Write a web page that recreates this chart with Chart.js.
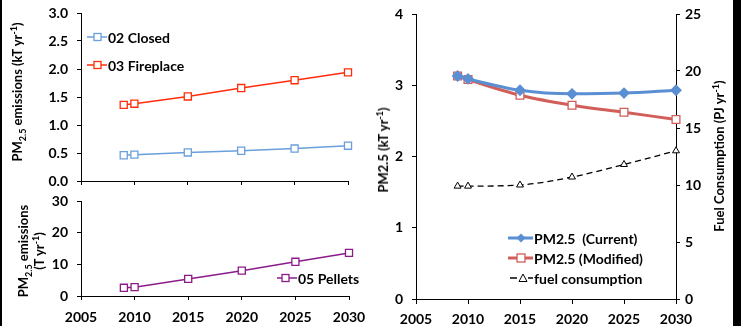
<!DOCTYPE html>
<html>
<head>
<meta charset="utf-8">
<script src="https://cdn.jsdelivr.net/npm/chart.js@4.4.1/dist/chart.umd.min.js"></script>
<style>
  body { margin: 0; background: #fff; }
  #wrap { position: relative; width: 741px; height: 326px; overflow: hidden; background: #fff;
          font-family: Lato, "Open Sans", sans-serif; font-weight: bold; color: #000; }
  canvas { position: absolute; }
  .title { position: absolute; white-space: nowrap; font-size: 13px; line-height: 16px;
           transform: translate(-50%, -50%) rotate(-90deg); text-align: center; }
  .title sub, .title sup { font-size: 9px; line-height: 0; }
  .leg { position: absolute; height: 18px; display: flex; align-items: center; font-size: 14px; white-space: pre; }
  .leg svg { margin-right: 1px; }
</style>
</head>
<body>
<div id="wrap">
  <canvas id="topLeft" width="370" height="190" style="left:0;top:0"></canvas>
  <canvas id="bottomLeft" width="370" height="136" style="left:0;top:190px"></canvas>
  <canvas id="right" width="363" height="326" style="left:370px;top:0"></canvas>

  <div class="title" style="left:17px;top:92px">PM<sub>2.5</sub> emissions (kT yr<sup>-1</sup>)</div>
  <div class="title" style="left:31px;top:251px">PM<sub>2.5</sub> emissions<br>(T yr<sup>-1</sup>)</div>
  <div class="title" style="left:383px;top:150px">PM2.5 (kT yr<sup>-1</sup>)</div>
  <div class="title" style="left:719px;top:156px">Fuel Consumption (PJ yr<sup>-1</sup>)</div>

  <div class="leg" style="left:87px;top:28px">
    <svg width="20" height="10"><line x1="0" y1="5" x2="20" y2="5" stroke="#6A9FDB" stroke-width="1.5"/><rect x="7" y="1.5" width="7" height="7" fill="#fff" stroke="#6A9FDB" stroke-width="1.3"/></svg>02 Closed</div>
  <div class="leg" style="left:87px;top:56px">
    <svg width="20" height="10"><line x1="0" y1="5" x2="20" y2="5" stroke="#FF2D0A" stroke-width="1.5"/><rect x="7" y="1.5" width="7" height="7" fill="#fff" stroke="#FF2D0A" stroke-width="1.3"/></svg>03 Fireplace</div>
  <div class="leg" style="left:277px;top:269px">
    <svg width="20" height="10"><line x1="0" y1="5" x2="20" y2="5" stroke="#8B1B8B" stroke-width="1.5"/><rect x="5" y="1.5" width="7" height="7" fill="#fff" stroke="#8B1B8B" stroke-width="1.3"/></svg>05 Pellets</div>
  <div class="leg" style="left:508px;top:229px">
    <svg width="25" height="12"><line x1="0" y1="6" x2="25" y2="6" stroke="#5A8FD3" stroke-width="3"/><polygon points="13,1.5 17.5,6 13,10.5 8.5,6" fill="#5A8FD3"/></svg>PM2.5  (Current)</div>
  <div class="leg" style="left:508px;top:249px">
    <svg width="25" height="12"><line x1="0" y1="6" x2="25" y2="6" stroke="#D15E59" stroke-width="3"/><rect x="9" y="2" width="8" height="8" fill="#fff" stroke="#D15E59" stroke-width="1.3"/></svg>PM2.5 (Modified)</div>
  <div class="leg" style="left:508px;top:269px">
    <svg width="25" height="12"><line x1="2" y1="6" x2="9" y2="6" stroke="#000" stroke-width="1.5"/><polygon points="15,2 19,9.5 11,9.5" fill="#fff" stroke="#000" stroke-width="1"/><line x1="20" y1="6" x2="25" y2="6" stroke="#000" stroke-width="1.5"/></svg>fuel consumption</div>

  <div style="position:absolute;left:0;top:0;width:2px;height:326px;background:#000"></div>
  <div style="position:absolute;left:733px;top:0;width:8px;height:326px;background:#000"></div>
</div>

<script>
// datos
const years = [2009, 2010, 2015, 2020, 2025, 2030];
const xTicks = [2005, 2010, 2015, 2020, 2025, 2030];

const closed = [0.46, 0.47, 0.51, 0.54, 0.58, 0.63];
const fireplace = [1.36, 1.38, 1.51, 1.66, 1.80, 1.94];
const pellets = [2.6, 2.8, 5.4, 8.0, 10.8, 13.6];

const pmCurrent = [3.13, 3.09, 2.93, 2.88, 2.89, 2.93];
const pmModified = [3.13, 3.08, 2.86, 2.72, 2.62, 2.52];
const fuelUse = [9.9, 9.9, 10.0, 10.7, 11.8, 13.0];

const tickFont = { family: 'Lato', size: 14, weight: 'bold' };

function puntos(valores) {
    return years.map((x, i) => ({ x: x, y: valores[i] }));
}

// quitar el relleno automático que Chart.js añade por las etiquetas
function sinRelleno(ax) {
    ax.paddingTop = 0; ax.paddingBottom = 0;
    ax.paddingLeft = 0; ax.paddingRight = 0;
}

function ejeX(showLabels, height, tickLen, pad) {
    return {
        type: 'linear', min: 2005, max: 2030,
        afterBuildTicks: ax => { ax.ticks = xTicks.map(v => ({ value: v })); },
        ticks: { display: showLabels, font: tickFont, color: '#000', padding: pad, maxRotation: 0, callback: v => String(v) },
        grid: { drawOnChartArea: false, drawTicks: true, tickLength: tickLen, color: '#000' },
        border: { color: '#000', width: 1 },
        afterFit: ax => { ax.height = height; sinRelleno(ax); }
    };
}

function ejeY(min, max, step, width, decimals, position) {
    return {
        type: 'linear', position: position || 'left', min: min, max: max,
        ticks: { stepSize: step, font: tickFont, color: '#000', padding: position === 'right' ? 5 : 9,
                 callback: v => v.toFixed(decimals) },
        grid: { drawOnChartArea: false, drawTicks: true, tickLength: 4, color: '#000' },
        border: { color: '#000', width: 1 },
        afterFit: ax => { ax.width = width; sinRelleno(ax); }
    };
}

function serie(label, data, color, extra) {
    return Object.assign({
        label: label,
        data: puntos(data),
        borderColor: color,
        backgroundColor: '#fff',
        pointBorderColor: color,
        pointBackgroundColor: '#fff',
        pointStyle: 'rect',
        pointRadius: 5,
        pointBorderWidth: 1.3,
        borderWidth: 1.5,
        tension: 0,
        clip: false
    }, extra || {});
}

const baseOptions = {
    responsive: false,
    animation: false,
    plugins: { legend: { display: false }, tooltip: { enabled: false } }
};

// panel superior izquierdo
new Chart(document.getElementById('topLeft'), {
    type: 'line',
    data: {
        datasets: [
            serie('02 Closed', closed, '#6A9FDB'),
            serie('03 Fireplace', fireplace, '#FF2D0A')
        ]
    },
    options: Object.assign({}, baseOptions, {
        layout: { padding: { top: 13, right: 22, left: 0, bottom: 0 } },
        scales: {
            x: ejeX(false, 9, 4, 0),
            y: ejeY(0, 3, 0.5, 81, 1)
        }
    })
});

// panel inferior izquierdo
new Chart(document.getElementById('bottomLeft'), {
    type: 'line',
    data: {
        datasets: [serie('05 Pellets', pellets, '#8B1B8B')]
    },
    options: Object.assign({}, baseOptions, {
        layout: { padding: { top: 11, right: 21, left: 0, bottom: 0 } },
        scales: {
            x: ejeX(true, 30, 4, 9),
            y: ejeY(0, 30, 10, 81, 0)
        }
    })
});

// panel derecho
new Chart(document.getElementById('right'), {
    type: 'line',
    data: {
        datasets: [
            serie('PM2.5  (Current)', pmCurrent, '#5A8FD3', {
                yAxisID: 'y', borderWidth: 3, pointStyle: 'rectRot', pointRadius: 5,
                pointBackgroundColor: '#5A8FD3', cubicInterpolationMode: 'monotone'
            }),
            serie('PM2.5 (Modified)', pmModified, '#D15E59', {
                yAxisID: 'y', borderWidth: 3, pointRadius: 5.5, cubicInterpolationMode: 'monotone'
            }),
            serie('fuel consumption', fuelUse, '#000', {
                yAxisID: 'y1', borderWidth: 1.3, borderDash: [6, 4], pointStyle: 'triangle',
                pointRadius: 4, pointBorderWidth: 1, cubicInterpolationMode: 'monotone'
            })
        ]
    },
    options: Object.assign({}, baseOptions, {
        layout: { padding: { top: 14, right: 0, left: 0, bottom: 0 } },
        scales: {
            x: ejeX(true, 27, 5, 7),
            y: ejeY(0, 4, 1, 46, 0),
            y1: ejeY(0, 25, 5, 57, 0, 'right')
        }
    })
});
</script>
</body>
</html>
